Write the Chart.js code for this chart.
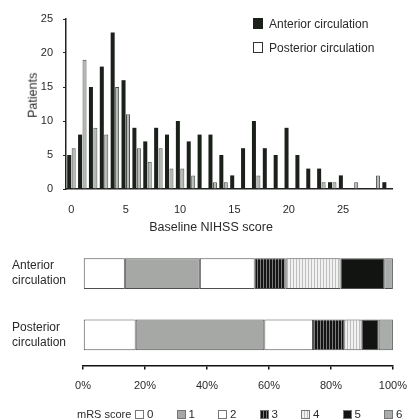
<!DOCTYPE html>
<html><head><meta charset="utf-8">
<script src="https://cdn.jsdelivr.net/npm/chart.js@4/dist/chart.umd.min.js"></script>
<style>
html,body{margin:0;padding:0;background:#fff;}
body{width:417px;height:419px;position:relative;overflow:hidden;font-family:"Liberation Sans",Arial,sans-serif;color:#2a2a2a;}
canvas{position:absolute;left:0;}
#c1{top:0;}
#c2{top:225px;}
.t{position:absolute;white-space:nowrap;line-height:1;}
.box{position:absolute;box-sizing:border-box;}
</style></head><body>
<canvas id="c1" width="417" height="240"></canvas>
<canvas id="c2" width="417" height="194"></canvas>
<div id="overlay"></div>
<script>
// ---- data ----
const nihssScores = ['0','1','2','3','4','5','6','7','8','9','10','11','12','13','14','15','16','17','18','19','20','21','22','23','24','25','26','27','28','29'];
const anteriorPatients  = [5,8,15,18,23,16,9,7,9,8,10,7,8,8,5,2,6,10,6,5,9,5,3,3,1,2,0,0,0,1];
const posteriorPatients = [6,19,9,8,15,11,6,4,6,3,3,2,0,1,1,0,0,2,0,0,0,0,0,1,1,0,1,0,2,0];
const nihssTickLabels = ['0','5','10','15','20','25'];
const patientTickStep = 5;
const patientMax = 25;
const seriesNames = ['Anterior circulation','Posterior circulation'];
const groupLabels = [['Anterior','circulation'],['Posterior','circulation']];
const mrsScores = ['0','1','2','3','4','5','6'];
const anteriorMrsPct  = [13.5,24.2,17.7,10.0,17.7,14.1,2.8];
const posteriorMrsPct = [17.0,41.5,15.7,10.1,5.6,5.5,4.6];
const pctTickStep = 20;

const FONT = '"Liberation Sans", Arial, sans-serif';
const TXT = '#2a2a2a';

function stripe(colors){
  const c = document.createElement('canvas');
  c.width = colors.length; c.height = 4;
  const g = c.getContext('2d');
  colors.forEach((col,i)=>{ g.fillStyle = col; g.fillRect(i,0,1,4); });
  return g.createPattern(c,'repeat');
}
const mrsFills = ['#ffffff','#a6a8a6', '#ffffff', stripe(['#151515','#151515','#7a7a7a']), stripe(['#f2f2f2','#f2f2f2','#bdbdbd']), '#121412', '#a9ada9'];
const mrsCss = ['#fff','#a6a8a6','#fff','repeating-linear-gradient(90deg,#151515 0 2px,#7a7a7a 2px 3px)','repeating-linear-gradient(90deg,#f2f2f2 0 2px,#bdbdbd 2px 3px)','#121412','#a9ada9'];

// ---- top chart ----
new Chart(document.getElementById('c1'), {
  type: 'bar',
  data: {
    labels: nihssScores,
    datasets: [
      {label: seriesNames[0], data: anteriorPatients, backgroundColor: '#1b201b', borderWidth: 0, categoryPercentage: 0.82, barPercentage: 0.9},
      {label: seriesNames[1], data: posteriorPatients, backgroundColor: '#b4b9b4', borderColor: '#4a4f4a', borderWidth: 1, categoryPercentage: 0.82, barPercentage: 0.9}
    ]
  },
  options: {
    responsive: false, animation: false, devicePixelRatio: 1,
    layout: {padding: {left: 0, right: 25, top: 19, bottom: 0}},
    plugins: {legend: {display: false}, tooltip: {enabled: false}},
    scales: {
      x: {
        grid: {display: false, drawTicks: false},
        border: {color: '#222', width: 1.5},
        ticks: {autoSkip: false, maxRotation: 0, minRotation: 0, padding: 14, color: TXT, font: {size: 11, family: FONT},
          callback: (v, i) => nihssTickLabels.includes(nihssScores[i]) ? nihssScores[i] : ''},
        afterFit: s => { s.height = 51; }
      },
      y: {
        min: 0, max: patientMax,
        ticks: {stepSize: patientTickStep, padding: 10, color: TXT, font: {size: 11, family: FONT}},
        grid: {drawOnChartArea: false, tickLength: 3, color: '#222'},
        border: {color: '#222', width: 1.5},
        afterFit: s => { s.width = 66; }
      }
    }
  }
});

// ---- bottom chart ----
new Chart(document.getElementById('c2'), {
  type: 'bar',
  data: {
    labels: groupLabels,
    datasets: mrsScores.map((m, k) => ({
      label: m,
      data: [anteriorMrsPct[k], posteriorMrsPct[k]],
      backgroundColor: mrsFills[k],
      borderColor: '#505050', borderWidth: 1, borderSkipped: false,
      categoryPercentage: 0.5, barPercentage: 1
    }))
  },
  options: {
    indexAxis: 'y',
    responsive: false, animation: false, devicePixelRatio: 1,
    layout: {padding: {left: 12, right: 15, top: 8.5, bottom: 0}},
    plugins: {legend: {display: false}, tooltip: {enabled: false}},
    scales: {
      x: {
        stacked: true, min: 0, max: 100,
        ticks: {stepSize: pctTickStep, padding: 10, color: TXT, font: {size: 11, family: FONT}, callback: v => v + '%'},
        grid: {drawOnChartArea: false, tickLength: 4, color: '#111', lineWidth: 1.5},
        border: {color: '#111', width: 1.5},
        afterFit: s => { s.height = 53.5; }
      },
      y: {
        stacked: true,
        ticks: {crossAlign: 'far', color: TXT, font: {size: 12, family: FONT, lineHeight: 1.25}},
        grid: {display: false},
        border: {display: false},
        afterFit: s => { s.width = 71; }
      }
    }
  }
});

// ---- text overlays (axis titles & legends) ----
const ov = document.getElementById('overlay');
function addText(txt, left, cy, size, extra){
  const d = document.createElement('div');
  d.className = 't'; d.textContent = txt;
  d.style.left = left + 'px'; d.style.top = (cy - size/2) + 'px'; d.style.fontSize = size + 'px';
  if (extra) Object.assign(d.style, extra);
  ov.appendChild(d); return d;
}
function addBox(left, top, w, h, bg, border){
  const b = document.createElement('div');
  b.className = 'box';
  Object.assign(b.style, {left: left+'px', top: top+'px', width: w+'px', height: h+'px', background: bg, border: border});
  ov.appendChild(b);
}
// y title
addText('Patients', 33, 95, 12.5, {transform: 'translate(-50%,0) rotate(-90deg)', transformOrigin: '50% 50%'});
// x title
addText('Baseline NIHSS score', 211, 227, 12.5, {transform: 'translateX(-50%)'});
// top legend
addBox(253, 18, 10, 11, '#1b201b', '1px solid #1b201b');
addText(seriesNames[0], 269, 23.5, 12);
addBox(253, 42, 10, 11, '#fff', '1px solid #333');
addText(seriesNames[1], 269, 47.5, 12);
// bottom legend
addText('mRS score', 77, 414, 11);
mrsScores.forEach((m, k) => {
  const x = 135 + 41.5 * k;
  addBox(x, 409.5, 9, 9, mrsCss[k], '1px solid #777');
  addText(m, x + 12, 414.5, 11.5);
});
</script>
</body></html>
